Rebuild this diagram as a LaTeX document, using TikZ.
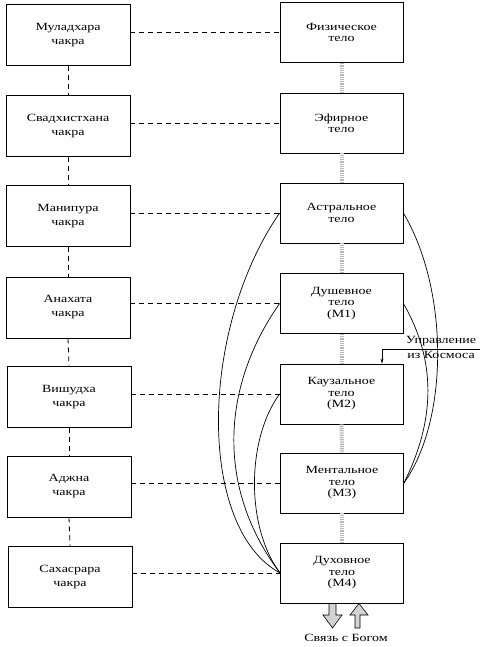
\documentclass[tikz,border=0pt]{standalone}
\usepackage{fontspec}
\setmainfont[FakeStretch=1.27]{Liberation Serif}
\usetikzlibrary{arrows.meta}
\begin{document}
\begin{tikzpicture}[x={(1pt,0)},y={(0,-1pt)},
  every node/.style={inner sep=0pt},
  lbox/.style={draw,line width=0.8pt,minimum width=124pt,minimum height=61pt,align=center,font=\fontsize{11}{14}\selectfont},
  rbox/.style={draw,line width=0.8pt,minimum width=123pt,minimum height=60pt,align=center,font=\fontsize{11}{11.5}\selectfont},
  hdash/.style={line width=0.8pt,dash pattern=on 5pt off 4pt},
  vdash/.style={line width=0.8pt,dash pattern=on 5pt off 4pt},
  gdot/.style={draw=gray!55,line width=4pt,dash pattern=on 1pt off 0.8pt},
  arc/.style={line width=0.7pt},
  barrow/.style={draw,line width=0.6pt,fill=gray!35,line join=miter},
  lab/.style={font=\fontsize{11}{15}\selectfont,align=center}
]
\useasboundingbox (0,0) rectangle (486,647);
% left column
\node[lbox] (L1) at (68,35) {Муладхара\\чакра};
\node[lbox] (L2) at (68,126) {Свадхистхана\\чакра};
\node[lbox] (L3) at (68,216) {Манипура\\чакра};
\node[lbox] (L4) at (68,307.5) {Анахата\\чакра};
\node[lbox] (L5) at (69,397) {Вишудха\\чакра};
\node[lbox] (L6) at (69,486.5) {Аджна\\чакра};
\node[lbox] (L7) at (70,577) {Сахасрара\\чакра};
% right column
\node[rbox] (R1) at (341.5,32.5) {Физическое\\тело};
\node[rbox] (R2) at (341.5,123) {Эфирное\\тело};
\node[rbox] (R3) at (341.5,213) {Астральное\\тело};
\node[rbox] (R4) at (341.5,303.5) {Душевное\\тело\\(М1)};
\node[rbox] (R5) at (341.5,394) {Каузальное\\тело\\(М2)};
\node[rbox] (R6) at (342,483) {Ментальное\\тело\\(М3)};
\node[rbox] (R7) at (342,573) {Духовное\\тело\\(М4)};
% vertical connectors
\foreach \a/\b in {L1/L2,L2/L3,L3/L4,L4/L5,L5/L6,L6/L7}
  \draw[vdash] (\a.south) -- (\b.north);
\foreach \a/\b in {R1/R2,R2/R3,R3/R4,R4/R5,R5/R6,R6/R7}
  \draw[gdot] (\a.south) -- (\b.north);
% horizontal connectors
\foreach \i in {1,...,7}
  \draw[hdash] (R\i.west -| L\i.east) -- (R\i.west);
% left arcs
\draw[arc] (R3.west) .. controls (199,330) and (197,528) .. (R7.west);
\draw[arc] (R4.west) .. controls (219,390) and (218,491) .. (R7.west);
\draw[arc] (R5.west) .. controls (246,440) and (246,528) .. (R7.west);
% right arcs
\draw[arc] (R3.east) .. controls (449,290) and (449,420) .. (R6.east);
\draw[arc] (R4.east) .. controls (436,360) and (436,419) .. (R6.east);
% control from cosmos
\node[lab] (cosm) at (441,347.5) {Управление\\из Космоса};
\coordinate (k1) at (480,349);
\coordinate (k2) at (382,349);
\draw[line width=0.6pt,-{Stealth[length=5pt,width=3pt]}] (k1) -- (k2) -- (k2 |- R5.north);
% link with God
\draw[barrow] (329,603.5) -- (336,603.5) -- (336,615) -- (342,615) -- (332.5,628) -- (323,615) -- (329,615) -- cycle;
\draw[barrow] (355,628) -- (360,628) -- (360,615) -- (368,615) -- (359,603.5) -- (350,615) -- (355,615) -- cycle;
\node[lab] (god) at (346,638) {Связь с Богом};
\end{tikzpicture}
\end{document}
